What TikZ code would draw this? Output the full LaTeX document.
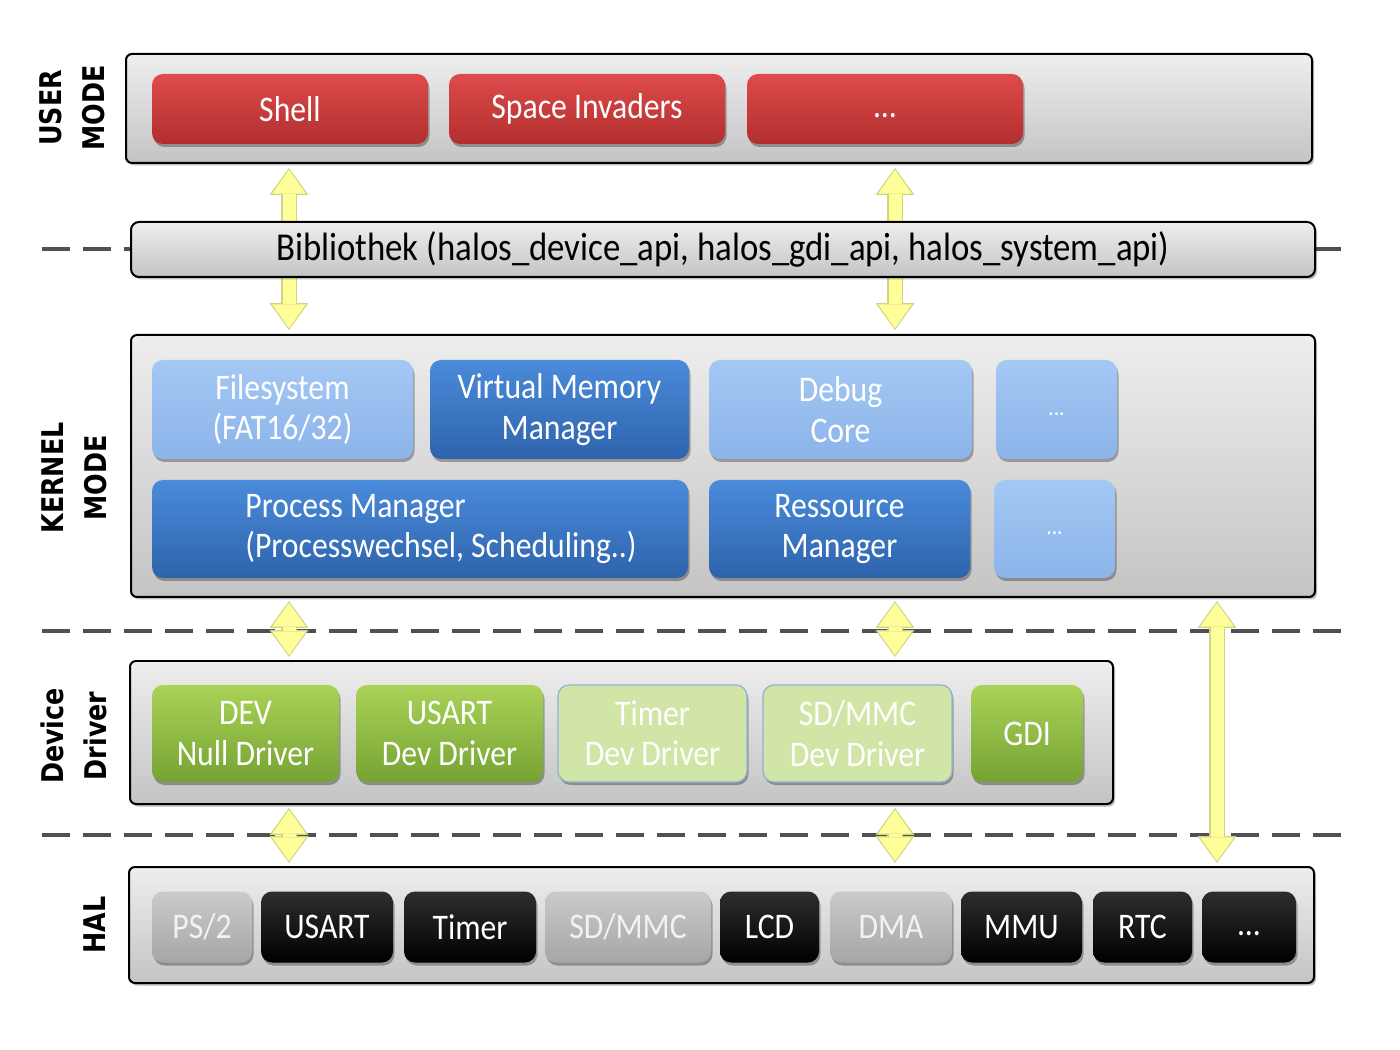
\documentclass[tikz,border=0pt]{standalone}
\usepackage{fontspec}
\setmainfont{Carlito}[FakeStretch=0.88]
\newfontfamily\lblfont{DejaVu Sans}[FakeStretch=0.85]
\usetikzlibrary{arrows.meta,shadows,calc}

\definecolor{frameTop}{HTML}{EEEEEE}
\definecolor{frameBot}{HTML}{C4C4C4}
\definecolor{redTop}{HTML}{DE4B4B}
\definecolor{redBot}{HTML}{B22E2E}
\definecolor{dkblueTop}{HTML}{4A8BDA}
\definecolor{dkblueBot}{HTML}{2E63AC}
\definecolor{ltblueTop}{HTML}{A4C8F4}
\definecolor{ltblueBot}{HTML}{8CB4EA}
\definecolor{greenTop}{HTML}{AAD257}
\definecolor{greenBot}{HTML}{75A333}
\definecolor{paleGreen}{HTML}{D1E5A7}
\definecolor{paleEdge}{HTML}{8FB2DA}
\definecolor{grayTop}{HTML}{CACACA}
\definecolor{grayBot}{HTML}{A6A6A6}
\definecolor{blackTop}{HTML}{2E2E2E}
\definecolor{ylwFill}{HTML}{FFFF99}
\definecolor{ylwEdge}{HTML}{D2D286}
\definecolor{dashGray}{HTML}{505050}

\pgfdeclarelayer{back}
\pgfsetlayers{back,main}

\newcommand{\moredots}{\vphantom{Ag}...}

\tikzset{
  sz/.style 2 args={minimum width=#1*0.02cm, minimum height=#2*0.02cm},
  layer/.style={draw=black, line width=0.04cm, rounded corners=0.12cm, inner sep=0pt,
    top color=frameTop, bottom color=frameBot,
    drop shadow={shadow xshift=0.04cm, shadow yshift=-0.05cm, opacity=0.25, fill=black}},
  tile/.style={rounded corners=0.22cm, inner sep=0pt, align=center, text=white,
    drop shadow={shadow xshift=0.03cm, shadow yshift=-0.06cm, opacity=0.3, fill=black}},
  app/.style={tile, top color=redTop, bottom color=redBot},
  dark/.style={tile, top color=dkblueTop, bottom color=dkblueBot},
  light/.style={tile, top color=ltblueTop, bottom color=ltblueBot},
  drv/.style={tile, top color=greenTop, bottom color=greenBot},
  paledrv/.style={tile, fill=paleGreen, draw=paleEdge, line width=0.025cm},
  hwgray/.style={tile, top color=grayTop, bottom color=grayBot, text=white!95!black},
  hwblack/.style={tile, top color=blackTop, bottom color=black},
  modelbl/.style={font=\lblfont\bfseries\fontsize{17}{24.4}\selectfont, rotate=90, align=center},
  sep/.style={dashGray, line width=0.08cm, dash pattern=on 0.56cm off 0.26cm},
  yarr/.style={draw=ylwEdge, line width=0.32cm,
    {Triangle[width=0.78cm,length=0.54cm,line width=0pt 0]}-{Triangle[width=0.78cm,length=0.54cm,line width=0pt 0]},
    postaction={draw=ylwFill, line width=0.26cm, shorten <=0.035cm, shorten >=0.035cm,
    {Triangle[width=0.68cm,length=0.48cm,line width=0pt 0]}-{Triangle[width=0.68cm,length=0.48cm,line width=0pt 0]}}}
}

\begin{document}
\begin{tikzpicture}[x=0.02cm, y=-0.02cm, font=\fontsize{20.5}{23}\selectfont]
  \useasboundingbox (0,0) rectangle (1400,1050);

  \coordinate (colA) at (289,0);
  \coordinate (colB) at (895,0);
  \coordinate (colC) at (1217,0);

  % user mode
  \node[layer, sz={1186}{109}] (user) at (719,108.5) {};
  \node[app, sz={276}{70}] (shell) at (290,109) {Shell};
  \node[app, sz={276}{70}] (invaders) at (587,109) {Space Invaders};
  \node[app, sz={276}{70}] (appmore) at (885,109) {\moredots};

  \node[layer, rounded corners=0.16cm, sz={1184}{55}, font=\fontsize{22.5}{26}\selectfont] (lib) at (723,249.5)
    {Bibliothek (halos\_device\_api, halos\_gdi\_api, halos\_system\_api)};

  % kernel mode
  \node[layer, sz={1184}{262}] (kern) at (723,466) {};
  \node[light, sz={261}{99}] (fs) at (282.5,409.5) {Filesystem\\(FAT16/32)};
  \node[dark, sz={259}{99}] (vmm) at (559.5,409.5) {Virtual Memory\\Manager};
  \node[light, sz={263}{99}] (dbg) at (840.5,409.5) {Debug\\Core};
  \node[light, sz={121}{99}, font=\fontsize{14}{16}\selectfont] (kmore1) at (1056.5,409.5) {\moredots};
  \node[dark, sz={536}{98}, align=left] (pm) at (420,529)
    {\hspace*{0.84cm}Process Manager\\\hspace*{0.84cm}(Processwechsel, Scheduling..)};
  \node[dark, sz={261}{98}] (rm) at (839.5,529) {Ressource\\Manager};
  \node[light, sz={121}{98}, font=\fontsize{14}{16}\selectfont] (kmore2) at (1054.5,529) {\moredots};

  % device driver
  \node[layer, sz={983}{143}] (dev) at (621.5,732.5) {};
  \node[drv, sz={187}{97}] (nulldrv) at (245.5,733.5) {DEV\\Null Driver};
  \node[drv, sz={187}{97}] (usartdrv) at (449.5,733.5) {USART\\Dev Driver};
  \node[paledrv, sz={189}{97}] (timerdrv) at (652.5,733.5) {Timer\\Dev Driver};
  \node[paledrv, sz={189}{97}] (sddrv) at (857.5,733.5) {SD/MMC\\Dev Driver};
  \node[drv, sz={112}{97}] (gdi) at (1027,733.5) {GDI};

  % hal
  \node[layer, sz={1185}{116}] (hal) at (721.5,925) {};
  \node[hwgray, sz={100}{71}] (ps2) at (202,927) {PS/2};
  \node[hwblack, sz={132}{71}] (usart) at (327,927) {USART};
  \node[hwblack, sz={132}{71}] (timer) at (470,927) {Timer};
  \node[hwgray, sz={166}{71}] (sdmmc) at (628,927) {SD/MMC};
  \node[hwblack, sz={99}{71}] (lcd) at (769.5,927) {LCD};
  \node[hwgray, sz={122}{71}] (dma) at (891,927) {DMA};
  \node[hwblack, sz={121}{71}] (mmu) at (1021.5,927) {MMU};
  \node[hwblack, sz={99}{71}] (rtc) at (1142.5,927) {RTC};
  \node[hwblack, sz={94}{71}] (hwmore) at (1249,927) {\moredots};

  \node[modelbl] (lblUser) at (72,108) {USER\\MODE};
  \node[modelbl] (lblKernel) at (74,478) {KERNEL\\MODE};
  \node[modelbl] (lblDev) at (74,736) {Device\\Driver};
  \node[modelbl] (lblHal) at (95,925) {HAL};

  \begin{pgfonlayer}{back}
    \draw[sep] (42,249) -- (1345,249);
    \draw[sep] (42,631) -- (1345,631);
    \draw[sep] (42,835) -- (1345,835);

    \draw[yarr] ($(user.south -| colA)+(0,4)$) -- ($(kern.north -| colA)+(0,-4)$);
    \draw[yarr] ($(user.south -| colB)+(0,4)$) -- ($(kern.north -| colB)+(0,-4)$);
    \draw[yarr] ($(kern.south -| colA)+(0,3)$) -- ($(dev.north -| colA)+(0,-3)$);
    \draw[yarr] ($(kern.south -| colB)+(0,3)$) -- ($(dev.north -| colB)+(0,-3)$);
    \draw[yarr] ($(dev.south -| colA)+(0,3)$) -- ($(hal.north -| colA)+(0,-3)$);
    \draw[yarr] ($(dev.south -| colB)+(0,3)$) -- ($(hal.north -| colB)+(0,-3)$);
    \draw[yarr] ($(kern.south -| colC)+(0,3)$) -- ($(hal.north -| colC)+(0,-3)$);
  \end{pgfonlayer}
\end{tikzpicture}
\end{document}
